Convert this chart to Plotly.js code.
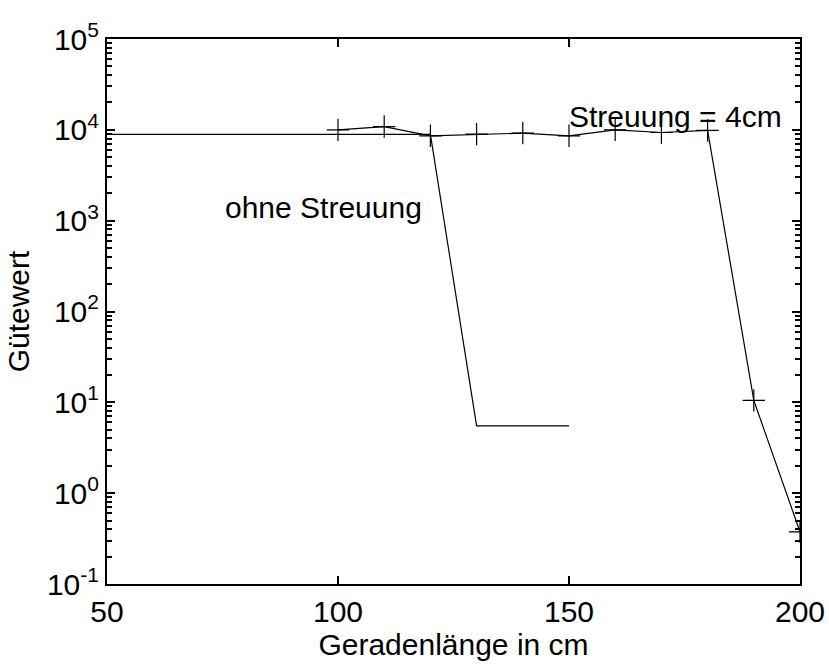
<!DOCTYPE html>
<html>
<head>
<meta charset="utf-8">
<script src="https://cdn.plot.ly/plotly-3.0.1.min.js"></script>
<style>html,body{margin:0;padding:0;background:#fff;}#chart{width:829px;height:664px;}</style>
</head>
<body>
<div id="chart"></div>
<script>
// Series: ohne Streuung (no markers)
const xOhne = [50, 60, 70, 80, 90, 100, 110, 120, 130, 140, 150];
const yOhne = [8900, 8900, 8900, 8900, 8900, 8900, 8900, 8900, 5.5, 5.5, 5.5];
// Series: Streuung = 4cm (plus markers)
const xStreu = [100, 110, 120, 130, 140, 150, 160, 170, 180, 190, 200];
const yStreu = [10000, 10870, 8600, 8970, 9200, 8600, 10000, 9350, 9850, 10.5, 0.375];
// Tick labels
const xTickVals = [50, 100, 150, 200];
const yTickExps = [-1, 0, 1, 2, 3, 4, 5];
const yTickVals = yTickExps.map(e => Math.pow(10, e));
const yTickText = yTickExps.map(e => '10<sup>' + e + '</sup>');

const fontFam = '"Liberation Sans", Arial, sans-serif';
const fs = 30;
const tickStyle = {ticks: 'inside', ticklen: 8, tickwidth: 2, tickcolor: '#000',
  showline: true, linecolor: '#000', linewidth: 2, showgrid: false, zeroline: false};
const minorStyle = {ticks: 'inside', ticklen: 5, tickwidth: 1.5, tickcolor: '#000', dtick: 'D1', showgrid: false};

const traces = [
  {x: xOhne, y: yOhne, type: 'scatter', mode: 'lines',
   line: {color: '#000', width: 1.2}, name: 'ohne Streuung'},
  {x: xStreu, y: yStreu, type: 'scatter', mode: 'lines+markers',
   line: {color: '#000', width: 1.2},
   marker: {symbol: 'cross-thin', size: 16, line: {color: '#000', width: 1.2}},
   name: 'Streuung = 4cm'},
  // empty trace so the mirrored frame axes (top / right) are drawn
  {x: [], y: [], type: 'scatter', mode: 'lines', xaxis: 'x2', yaxis: 'y2', showlegend: false, hoverinfo: 'skip'}
];

const layout = {
  width: 829, height: 664,
  margin: {l: 107, r: 29, t: 39, b: 80},
  showlegend: false,
  font: {family: fontFam, size: fs, color: '#000'},
  xaxis: Object.assign({}, tickStyle, {
    range: [50, 200], tickvals: xTickVals, ticktext: xTickVals.map(String),
    tickfont: {family: fontFam, size: fs, color: '#000'},
    title: {text: 'Geradenlänge in cm', font: {family: fontFam, size: fs, color: '#000'}, standoff: 2}
  }),
  yaxis: Object.assign({}, tickStyle, {
    type: 'log', range: [-1, 5], tickvals: yTickVals, ticktext: yTickText,
    minor: minorStyle,
    tickfont: {family: fontFam, size: fs, color: '#000'},
    title: {text: 'Gütewert', font: {family: fontFam, size: fs, color: '#000'}, standoff: 8}
  }),
  xaxis2: Object.assign({}, tickStyle, {
    overlaying: 'x', side: 'top', anchor: 'y2', range: [50, 200], tickvals: xTickVals,
    showticklabels: false
  }),
  yaxis2: Object.assign({}, tickStyle, {
    overlaying: 'y', side: 'right', anchor: 'x2', type: 'log', range: [-1, 5], tickvals: yTickVals,
    minor: minorStyle, showticklabels: false
  }),
  annotations: [
    {x: 75, y: 3.14, xref: 'x', yref: 'y', text: 'ohne Streuung', showarrow: false,
     xanchor: 'left', yanchor: 'middle', font: {family: fontFam, size: fs, color: '#000'}},
    {x: 149.5, y: 4.15, xref: 'x', yref: 'y', text: 'Streuung = 4cm', showarrow: false,
     xanchor: 'left', yanchor: 'middle', font: {family: fontFam, size: fs, color: '#000'}}
  ]
};

Plotly.newPlot('chart', traces, layout, {displayModeBar: false});
</script>
</body>
</html>
